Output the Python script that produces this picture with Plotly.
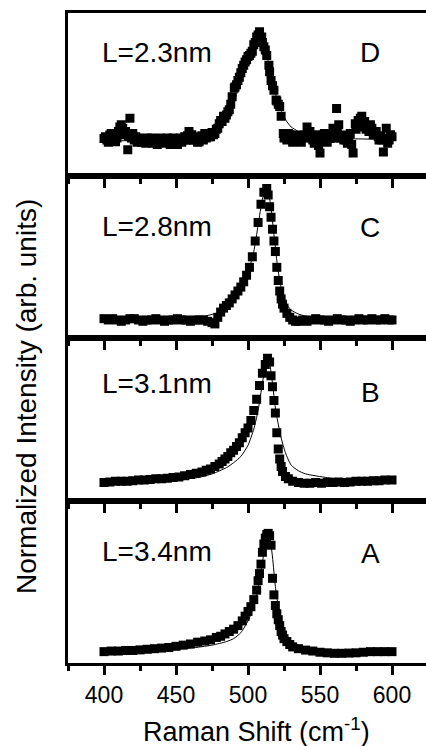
import plotly.graph_objects as go

# ---------------- data (normalized intensity, baseline 0 / peak 1) ----------------
# Panel D : L = 2.3 nm
d_x = [400, 402, 404, 406, 408, 411, 413, 415, 416.5, 418, 420, 422, 425, 428, 432, 435, 438, 442,
       445, 449, 452, 456, 459, 463, 466, 470, 473, 477, 479, 481, 484, 487, 489, 490.5, 492, 495,
       497, 499, 501, 503, 506, 508, 509.5, 511, 513, 514.5, 516, 518, 519.5, 522, 523, 524.5, 526,
       528, 530, 533, 536, 538, 541, 543, 545, 547.5, 550, 552, 554.5, 557, 559, 561.5, 563, 565,
       566.5, 569, 571, 573, 574.5, 576.5, 579, 581, 583.5, 586, 588, 590.5, 593, 594, 596, 598, 600]
d_y = [0.015, 0.0, 0.046, 0.03, -0.015, 0.12, 0.11, 0.08, -0.09, 0.2, 0.06, 0.03, 0.0, 0.015, 0.0,
       -0.015, 0.0, -0.03, 0.015, -0.03, 0.0, 0.03, 0.08, 0.015, -0.015, 0.06, 0.03, 0.06, 0.11, 0.18,
       0.2, 0.28, 0.40, 0.48, 0.51, 0.62, 0.69, 0.74, 0.78, 0.82, 0.95, 1.0, 0.95, 0.86, 0.78, 0.69,
       0.55, 0.46, 0.37, 0.31, 0.22, 0.06, 0.03, 0.06, 0.015, 0.046, 0.0, 0.03, 0.12, 0.08, 0.0, 0.03,
       -0.12, 0.0, 0.03, 0.015, 0.11, 0.29, 0.14, 0.046, 0.0, -0.03, 0.06, -0.12, 0.15, 0.18, 0.22,
       0.17, 0.12, 0.11, 0.06, 0.03, 0.0, -0.11, 0.11, 0.0, 0.03]
# additional (overlapping) points of panel D
d_x2 = [401, 403, 405, 407, 409, 410, 412, 414, 417, 419, 421, 423, 424, 426, 427, 429, 430, 431,
        433, 434, 436, 437, 439, 440, 441, 443, 444, 446, 447, 448, 450, 451, 453, 454, 455, 457,
        458, 460, 461, 462, 464, 465, 467, 468, 469, 471, 472, 474, 475, 476, 478, 480, 482, 483,
        485, 486, 488, 491, 493, 494, 496, 498, 500, 502, 504, 505, 507, 510, 512, 515, 517, 520,
        521, 525, 527, 529, 531, 532, 534, 535, 537, 539, 540, 542, 544, 546, 548, 549, 551, 553,
        555, 556, 558, 560, 562, 564, 567, 568, 570, 572, 575, 577, 578, 580, 582, 584, 585, 587,
        589, 591, 592, 595, 597, 599]
d_y2 = [0.03, -0.02, 0.06, 0.0, 0.02, 0.08, 0.14, 0.05, 0.04, 0.02, 0.0, -0.02, 0.02, -0.02, 0.01,
        -0.03, 0.02, -0.02, 0.02, -0.03, 0.01, -0.04, 0.02, -0.02, 0.01, -0.01, 0.02, -0.04, 0.0,
        0.02, -0.01, -0.04, 0.02, -0.02, 0.01, 0.0, 0.04, 0.0, 0.05, 0.0, 0.03, -0.02, 0.02, 0.04,
        0.0, 0.02, 0.05, 0.03, 0.07, 0.05, 0.1, 0.15, 0.17, 0.22, 0.23, 0.26, 0.33, 0.49, 0.55, 0.58,
        0.66, 0.72, 0.77, 0.8, 0.88, 0.9, 0.97, 0.9, 0.83, 0.63, 0.5, 0.36, 0.33, 0.02, 0.0, 0.05,
        -0.02, 0.02, 0.0, 0.04, -0.02, 0.05, 0.02, 0.06, 0.02, -0.03, 0.05, -0.05, 0.02, 0.06, -0.02,
        0.02, 0.05, 0.02, 0.08, 0.02, 0.04, 0.0, 0.02, -0.04, 0.1, 0.12, 0.2, 0.15, 0.1, 0.08, 0.14,
        0.05, 0.08, 0.0, 0.04, 0.02, -0.03, 0.05]
d_fit_x = [400, 430, 460, 470, 478, 483, 488, 492, 496, 500, 503, 506, 507, 509, 512, 515, 518, 521,
           524, 527, 530, 535, 540, 550, 565, 580, 600]
d_fit_y = [-0.01, 0.0, 0.02, 0.04, 0.08, 0.14, 0.26, 0.42, 0.6, 0.77, 0.9, 0.99, 1.0, 0.97, 0.85,
           0.66, 0.47, 0.35, 0.24, 0.17, 0.12, 0.08, 0.055, 0.03, 0.015, 0.01, 0.005]

# Panel C : L = 2.8 nm
c_x = [400, 403, 406, 409, 412, 415, 418, 421, 424, 427, 430, 433, 436, 439, 442, 445, 448, 451, 454,
       457, 460, 463, 466, 469, 472, 475, 477, 479, 481, 483, 485, 487, 489, 491, 493, 495, 497, 499,
       501, 503, 505, 507, 509, 511, 513, 514, 515, 516, 517, 518, 519, 520, 521, 522, 523, 524, 525,
       527, 529, 531, 533, 535, 538, 541, 544, 547, 550, 553, 556, 559, 562, 565, 568, 571, 574, 577,
       580, 583, 586, 589, 592, 595, 598, 600]
c_y = [0.01, 0.0, 0.01, 0.0, -0.01, 0.0, 0.01, 0.01, 0.0, -0.01, 0.0, 0.0, 0.01, 0.0, -0.01, 0.0,
       0.0, 0.01, 0.0, 0.0, -0.01, 0.0, 0.0, 0.0, -0.01, -0.02, -0.03, 0.02, 0.06, 0.09, 0.11, 0.13,
       0.16, 0.19, 0.22, 0.25, 0.29, 0.34, 0.40, 0.48, 0.60, 0.74, 0.88, 0.97, 1.0, 0.95, 0.86, 0.78,
       0.69, 0.60, 0.52, 0.40, 0.30, 0.22, 0.16, 0.12, 0.09, 0.05, 0.02, 0.0, -0.01, -0.01, 0.0, -0.01,
       0.0, 0.01, 0.0, 0.0, -0.01, 0.0, 0.01, 0.0, 0.0, -0.01, 0.0, 0.01, 0.0, 0.0, 0.01, 0.0, 0.0,
       0.01, 0.0, 0.0]
c_fit_x = [400, 450, 470, 480, 490, 495, 500, 504, 507, 510, 512, 513, 514, 516, 518, 520, 522, 524,
           526, 528, 530, 535, 540, 550, 575, 600]
c_fit_y = [0.0, 0.01, 0.03, 0.06, 0.15, 0.23, 0.36, 0.52, 0.72, 0.92, 0.99, 1.0, 0.98, 0.85, 0.65,
           0.45, 0.30, 0.20, 0.14, 0.10, 0.075, 0.045, 0.03, 0.015, 0.005, 0.0]

# Panel B : L = 3.1 nm
b_x = [400, 404, 408, 412, 416, 420, 424, 428, 432, 436, 440, 444, 448, 452, 456, 460, 464, 468, 471,
       474, 477, 480, 482, 484, 486, 488, 490, 492, 494, 496, 498, 500, 502, 504, 506, 508, 510, 512,
       513.5, 515, 516, 517, 518, 519, 520, 521, 522, 523, 524, 526, 528, 531, 535, 539, 543, 547, 551,
       555, 559, 563, 567, 571, 575, 579, 583, 587, 591, 595, 600]
b_y = [0.0, 0.005, 0.01, 0.01, 0.01, 0.015, 0.02, 0.02, 0.025, 0.03, 0.03, 0.035, 0.04, 0.045, 0.055,
       0.065, 0.075, 0.085, 0.10, 0.11, 0.13, 0.15, 0.17, 0.19, 0.21, 0.24, 0.26, 0.29, 0.32, 0.36,
       0.40, 0.44, 0.50, 0.58, 0.67, 0.78, 0.88, 0.95, 1.0, 0.97, 0.86, 0.77, 0.66, 0.56, 0.40, 0.27,
       0.19, 0.13, 0.09, 0.05, 0.03, 0.01, 0.0, -0.005, -0.005, 0.0, -0.005, 0.0, 0.0, 0.005, 0.0,
       0.005, 0.01, 0.01, 0.01, 0.015, 0.015, 0.02, 0.02]
b_fit_x = [400, 430, 450, 465, 475, 485, 490, 495, 500, 504, 507, 510, 512, 513.5, 515, 517, 519, 521,
           523, 526, 530, 535, 540, 555, 565, 580, 600]
b_fit_y = [0.0, 0.01, 0.02, 0.04, 0.07, 0.12, 0.16, 0.21, 0.30, 0.43, 0.58, 0.80, 0.94, 1.0, 0.96,
           0.80, 0.60, 0.47, 0.36, 0.24, 0.14, 0.095, 0.07, 0.04, 0.03, 0.015, 0.008]

# Panel A : L = 3.4 nm
a_x = [400, 405, 410, 415, 420, 425, 430, 435, 440, 445, 450, 455, 460, 465, 470, 474, 478, 481, 484,
       487, 490, 493, 496, 498, 500, 502, 504, 506, 507, 508, 509, 510, 511, 512, 513, 514, 515, 516,
       517, 518, 519, 520, 521, 522, 523, 524, 525, 527, 529, 531, 535, 540, 545, 550, 555, 560, 565,
       570, 575, 580, 585, 590, 595, 600]
a_y = [0.0, 0.005, 0.005, 0.01, 0.01, 0.015, 0.02, 0.025, 0.03, 0.035, 0.045, 0.055, 0.065, 0.08,
       0.09, 0.10, 0.12, 0.13, 0.15, 0.17, 0.19, 0.22, 0.26, 0.30, 0.34, 0.38, 0.44, 0.52, 0.60, 0.66,
       0.74, 0.84, 0.91, 0.96, 0.99, 1.0, 0.98, 0.90, 0.62, 0.48, 0.39, 0.32, 0.27, 0.22, 0.17, 0.14,
       0.11, 0.085, 0.06, 0.04, 0.025, 0.013, 0.005, -0.005, -0.01, -0.014, -0.014, -0.012, -0.01,
       -0.005, 0.0, 0.0, 0.0, 0.0]
a_fit_x = [400, 440, 460, 475, 485, 490, 495, 500, 504, 507, 510, 512, 514, 515, 517, 519, 521, 523,
           525, 528, 531, 535, 540, 550, 565, 580, 600]
a_fit_y = [0.0, 0.015, 0.03, 0.055, 0.085, 0.11, 0.16, 0.26, 0.38, 0.53, 0.75, 0.92, 1.0, 0.98, 0.8,
           0.55, 0.38, 0.26, 0.18, 0.12, 0.08, 0.055, 0.04, 0.022, 0.012, 0.006, 0.003]

panel_labels = ["L=2.3nm", "L=2.8nm", "L=3.1nm", "L=3.4nm"]
panel_letters = ["D", "C", "B", "A"]
x_tick_vals = [400, 450, 500, 550, 600]
x_minor_vals = [375, 425, 475, 525, 575, 625]

panels = [
    (d_x + d_x2, d_y + d_y2, d_fit_x, d_fit_y, [-0.327, 1.172]),
    (c_x, c_y, c_fit_x, c_fit_y, [-0.137, 1.098]),
    (b_x, b_y, b_fit_x, b_fit_y, [-0.144, 1.163]),
    (a_x, a_y, a_fit_x, a_fit_y, [-0.096, 1.278]),
]

W, H = 426, 746
ML, MR, MT, MB = 68, 0, 13, 83
FONT = "Liberation Sans, Arial, sans-serif"

fig = go.Figure()
layout = dict(
    width=W, height=H,
    margin=dict(l=ML, r=MR, t=MT, b=MB),
    paper_bgcolor="white", plot_bgcolor="white",
    showlegend=False,
    font=dict(family=FONT, color="black"),
)

n = len(panels)
for i, (px, py, fx, fy, yr) in enumerate(panels):
    k = i + 1
    xa = "x" if k == 1 else f"x{k}"
    ya = "y" if k == 1 else f"y{k}"
    fig.add_trace(go.Scatter(
        x=px, y=py, mode="markers", xaxis=xa, yaxis=ya,
        marker=dict(symbol="square", size=9, color="black", line=dict(width=0)),
    ))
    fig.add_trace(go.Scatter(
        x=fx, y=fy, mode="lines", xaxis=xa, yaxis=ya,
        line=dict(color="black", width=1, shape="spline", smoothing=0.6),
    ))
    top = 1 - i / n
    bot = 1 - (i + 1) / n
    last = (i == n - 1)
    xkey = "xaxis" if k == 1 else f"xaxis{k}"
    ykey = "yaxis" if k == 1 else f"yaxis{k}"
    layout[xkey] = dict(
        domain=[0, 1], anchor=ya, range=[375, 623.6],
        showline=True, linewidth=3, linecolor="black", mirror=True,
        showgrid=False, zeroline=False,
        ticks="outside", ticklen=9, tickwidth=2.5, tickcolor="black",
        tickvals=x_tick_vals,
        minor=dict(tickvals=x_minor_vals, ticks="outside", ticklen=5, tickwidth=2.5,
                   tickcolor="black", showgrid=False),
        showticklabels=last,
        tickfont=dict(family=FONT, size=23, color="black"),
    )
    layout[ykey] = dict(
        domain=[bot, top], anchor=xa, range=yr,
        showline=True, linewidth=3, linecolor="black", mirror=False,
        showgrid=False, zeroline=False, showticklabels=False, ticks="",
    )

fig.update_layout(**layout)

# panel annotations (positions in paper coords of each panel)
label_y_px = [52, 226, 383, 551]
letter_y_px = [52, 227, 392, 553]
plot_h = H - MT - MB
plot_w = W - ML - MR
for i in range(n):
    ly = 1 - (label_y_px[i] - MT) / plot_h
    ty = 1 - (letter_y_px[i] - MT) / plot_h
    fig.add_annotation(
        x=(100 - ML) / plot_w, y=ly, xref="paper", yref="paper",
        text=panel_labels[i], showarrow=False, xanchor="left", yanchor="middle",
        font=dict(family=FONT, size=28, color="black"),
    )
    fig.add_annotation(
        x=(370 - ML) / plot_w, y=ty, xref="paper", yref="paper",
        text=panel_letters[i], showarrow=False, xanchor="center", yanchor="middle",
        font=dict(family=FONT, size=28, color="black"),
    )

# axis titles
fig.add_annotation(
    x=(256 - ML) / plot_w, y=-(730 - (H - MB)) / plot_h, xref="paper", yref="paper",
    text="Raman Shift (cm<sup>-1</sup>)", showarrow=False, xanchor="center", yanchor="middle",
    font=dict(family=FONT, size=27, color="black"),
)
fig.add_annotation(
    x=-(ML - 26) / plot_w, y=1 - (397 - MT) / plot_h, xref="paper", yref="paper",
    text="Normalized Intensity (arb. units)", showarrow=False, textangle=-90,
    xanchor="center", yanchor="middle",
    font=dict(family=FONT, size=28, color="black"),
)

fig.write_html(
    "out.html",
    config={"displayModeBar": False},
    post_script="document.body.style.margin='0';document.body.style.padding='0';"
                "document.body.style.overflow='hidden';",
)
